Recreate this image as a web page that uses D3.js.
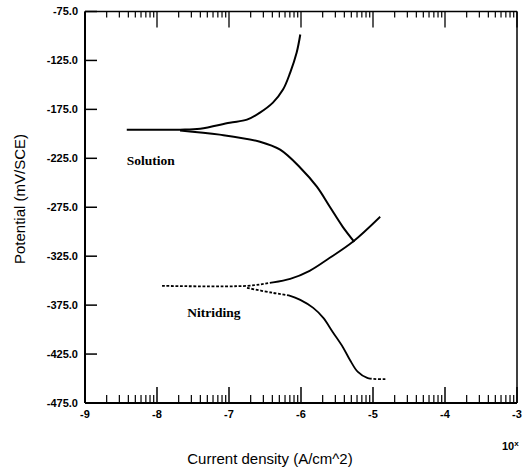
<!DOCTYPE html>
<html><head><meta charset="utf-8">
<script src="https://cdn.jsdelivr.net/npm/d3@7"></script>
<style>body{margin:0;background:#fff}svg{display:block}</style>
</head><body>
<svg id="c" width="525" height="469"></svg>
<script>
// log10(current density), potential (mV/SCE)
const solutionAnodic = [
  [-8.42,-195.7],[-7.68,-195.7],[-7.40,-194.7],[-6.99,-188.6],[-6.75,-185.5],
  [-6.57,-178.3],[-6.39,-168.1],[-6.25,-154.8],[-6.15,-137.4],[-6.06,-116.9],[-6.01,-98.5]
];
const solutionCathodic = [
  [-7.68,-196.5],[-7.13,-200.8],[-6.57,-208],[-6.29,-216.2],[-6.01,-234.6],
  [-5.78,-254],[-5.60,-274.5],[-5.42,-295],[-5.26,-310.3]
];
const nitridingAnodic = [
  [-7.93,-355.3],[-6.75,-355.3],[-6.43,-352.3],[-6.15,-348.2],[-5.88,-340],
  [-5.60,-326.7],[-5.28,-310.3],[-4.90,-284.7]
];
const nitridingCathodic = [
  [-6.75,-357.4],[-6.39,-362.5],[-6.15,-365.5],[-6.01,-369.6],[-5.83,-377.8],
  [-5.69,-388],[-5.56,-402.4],[-5.42,-417.7],[-5.32,-431],[-5.21,-443.3],
  [-5.08,-449.4],[-4.81,-450.5]
];
const xTicks = [-9,-8,-7,-6,-5,-4,-3];
const yTicks = [-75,-125,-175,-225,-275,-325,-375,-425,-475];
const labels = [["Solution",-8.42,-232],["Nitriding",-7.58,-387]];

const svg = d3.select("#c");
const L=85, R=517, T=11.5, B=403;
const x = d3.scaleLinear().domain([-9,-3]).range([L,R]);
const y = d3.scaleLinear().domain([-75,-475]).range([T,B]);

const g = svg.append("g");
g.append("line").attr("x1",L).attr("x2",L).attr("y1",T).attr("y2",B).attr("stroke","#000").attr("stroke-width",2);
g.append("line").attr("x1",L).attr("x2",R).attr("y1",B).attr("y2",B).attr("stroke","#000").attr("stroke-width",2);
g.append("line").attr("x1",L).attr("x2",R).attr("y1",T).attr("y2",T).attr("stroke","#000").attr("stroke-width",1.5);
g.append("line").attr("x1",R).attr("x2",R).attr("y1",T).attr("y2",B).attr("stroke","#000").attr("stroke-width",1.5);

yTicks.forEach(v=>{
  g.append("line").attr("x1",L).attr("x2",L+12).attr("y1",y(v)).attr("y2",y(v)).attr("stroke","#000").attr("stroke-width",1.5);
  g.append("text").attr("x",L-7).attr("y",y(v)).attr("dy","0.35em").attr("text-anchor","end")
   .attr("font-family","Liberation Sans Narrow, Liberation Sans, Arial").attr("font-weight","bold").attr("font-size",11)
   .text(v.toFixed(1));
});

xTicks.forEach((d,i)=>{
  g.append("line").attr("x1",x(d)).attr("x2",x(d)).attr("y1",B).attr("y2",B-16).attr("stroke","#000").attr("stroke-width",1.5);
  g.append("line").attr("x1",x(d)).attr("x2",x(d)).attr("y1",T).attr("y2",T+16).attr("stroke","#000").attr("stroke-width",1.3);
  g.append("text").attr("x",x(d)).attr("y",B+11).attr("dy","0.35em").attr("text-anchor","middle")
   .attr("font-family","Liberation Sans Narrow, Liberation Sans, Arial").attr("font-weight","bold").attr("font-size",11).text(d);
  if(i<xTicks.length-1){
    for(let m=2;m<=9;m++){
      const xv = x(d+Math.log10(m));
      g.append("line").attr("x1",xv).attr("x2",xv).attr("y1",B).attr("y2",B-8).attr("stroke","#000").attr("stroke-width",1.2);
      g.append("line").attr("x1",xv).attr("x2",xv).attr("y1",T).attr("y2",T+6).attr("stroke","#000").attr("stroke-width",1.2);
    }
  }
});
const tx = g.append("text").attr("x",502).attr("y",450).attr("font-family","Liberation Sans, Arial").attr("font-weight","bold").attr("font-size",11);
tx.append("tspan").text("10");
tx.append("tspan").attr("dy",-4).attr("font-size",8).text("x");

svg.append("text").attr("x",270).attr("y",464).attr("text-anchor","middle")
  .attr("font-family","Liberation Sans, Arial").attr("font-size",15).text("Current density (A/cm^2)");
svg.append("text").attr("transform","translate(25,199) rotate(-90)").attr("text-anchor","middle")
  .attr("font-family","Liberation Sans, Arial").attr("font-size",15).text("Potential (mV/SCE)");

const line = d3.line().x(d=>x(d[0])).y(d=>y(d[1])).curve(d3.curveCatmullRom.alpha(0.5));
// draw path; dashed where log i is in [dashFrom, dashTo]
function draw(data, w, ranges){
  const p = svg.append("path").datum(data).attr("d",line).attr("fill","none").attr("stroke","#000").attr("stroke-width",w);
  if(!ranges) return;
  const node = p.node(), total = node.getTotalLength();
  // sample path to find lengths where x crosses thresholds
  const isDash = s => { const pt = node.getPointAtLength(s); const lx = x.invert(pt.x); return ranges.some(r=>lx>=r[0]&&lx<=r[1]); };
  const arr=[]; let s=0;
  let cur = isDash(0), run=0;
  // build dash array step by step
  const step=0.5; let solidAcc=0;
  while(s<total){
    const dsh = isDash(s);
    if(dsh){
      if(solidAcc>0){ arr.push(solidAcc,0); solidAcc=0; }
      arr.push(2.8,1.7); s+=4.5;
    } else { solidAcc+=step; s+=step; }
  }
  if(solidAcc>0) arr.push(solidAcc,0);
  p.attr("stroke-dasharray",arr.join(","));
}
draw(solutionAnodic,2);
draw(solutionCathodic,2);
draw(nitridingAnodic,1.8,[[-8,-6.45]]);
draw(nitridingCathodic,1.8,[[-8,-6.2],[-5.06,-4]]);

labels.forEach(l=>{
  svg.append("text").attr("x",x(l[1])).attr("y",y(l[2])).attr("font-family","Liberation Serif, Times New Roman")
    .attr("font-weight","bold").attr("font-size",13.5).text(l[0]);
});
</script>
</body></html>
